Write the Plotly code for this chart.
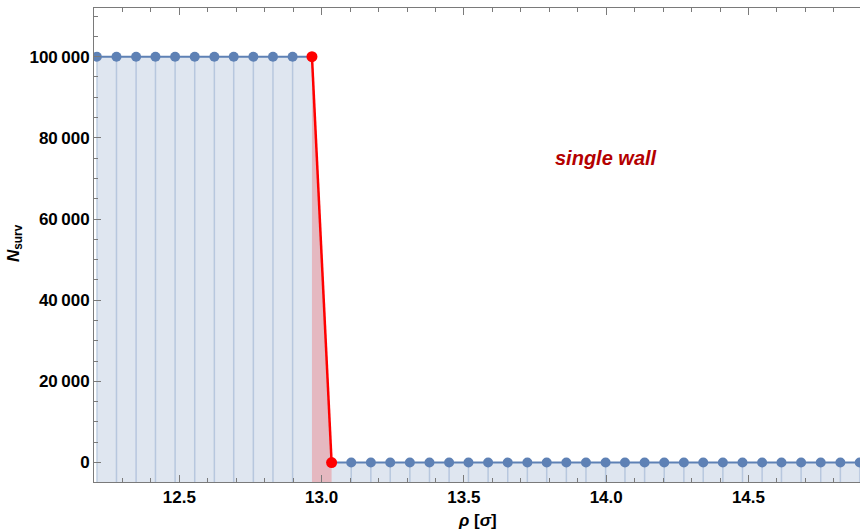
import plotly.graph_objects as go

# Surviving-particle count N_surv versus radial position rho (in units of sigma)
rho = [12.210, 12.279, 12.348, 12.416, 12.485, 12.554, 12.623, 12.691,
       12.760, 12.829, 12.898, 12.966, 13.035, 13.104, 13.173, 13.241,
       13.310, 13.379, 13.448, 13.516, 13.585, 13.654, 13.723, 13.791,
       13.860, 13.929, 13.998, 14.066, 14.135, 14.204, 14.273, 14.341,
       14.410, 14.479, 14.548, 14.616, 14.685, 14.754, 14.823, 14.891]
n_surv = [100000, 100000, 100000, 100000, 100000, 100000, 100000, 100000,
          100000, 100000, 100000, 100000, 0, 0, 0, 0,
          0, 0, 0, 0, 0, 0, 0, 0,
          0, 0, 0, 0, 0, 0, 0, 0,
          0, 0, 0, 0, 0, 0, 0, 0]

# the step across the wall (last point above, first point below)
wall_idx = [11, 12]

x_ticks = [12.5, 13.0, 13.5, 14.0, 14.5]
x_ticktext = ["12.5", "13.0", "13.5", "14.0", "14.5"]
y_ticks = [0, 20000, 40000, 60000, 80000, 100000]
y_ticktext = ["0", "20\u2009000", "40\u2009000", "60\u2009000", "80\u2009000", "100\u2009000"]

X_RANGE = [12.2, 14.892]
Y_RANGE = [-4800, 112000]

BLUE = "#5E81B5"
RED = "#FF0000"
FONT = "Liberation Sans"

fig = go.Figure()

# filled area under the whole curve, down to the bottom of the frame
fig.add_trace(go.Scatter(x=[rho[0], rho[-1]], y=[Y_RANGE[0], Y_RANGE[0]],
                         mode="lines", line=dict(width=0), hoverinfo="skip",
                         showlegend=False))
fig.add_trace(go.Scatter(x=rho, y=n_surv, mode="lines", line=dict(width=0),
                         fill="tonexty", fillcolor="rgba(94,129,181,0.2)",
                         hoverinfo="skip", showlegend=False))

# red filling under the wall segment
i0, i1 = wall_idx
fig.add_trace(go.Scatter(
    x=[rho[i0], rho[i1], rho[i1], rho[i0], rho[i0]],
    y=[n_surv[i0], n_surv[i1], Y_RANGE[0], Y_RANGE[0], n_surv[i0]],
    mode="lines", line=dict(width=0), fill="toself",
    fillcolor="rgba(255,0,0,0.2)", hoverinfo="skip", showlegend=False))

# vertical drop lines from every blue point
blue_idx = [i for i in range(len(rho)) if i not in wall_idx]
sx, sy = [], []
for i in blue_idx:
    sx += [rho[i], rho[i], None]
    sy += [n_surv[i], Y_RANGE[0], None]
fig.add_trace(go.Scatter(x=sx, y=sy, mode="lines",
                         line=dict(color="rgba(94,129,181,0.3)", width=1.5),
                         hoverinfo="skip", showlegend=False))

# blue joined lines on both plateaus
fig.add_trace(go.Scatter(x=rho[:i0 + 1], y=n_surv[:i0 + 1], mode="lines",
                         line=dict(color=BLUE, width=2), showlegend=False))
fig.add_trace(go.Scatter(x=rho[i1:], y=n_surv[i1:], mode="lines",
                         line=dict(color=BLUE, width=2), showlegend=False))

# blue points
fig.add_trace(go.Scatter(x=[rho[i] for i in blue_idx],
                         y=[n_surv[i] for i in blue_idx], mode="markers",
                         marker=dict(color=BLUE, size=10, line=dict(width=0)),
                         showlegend=False))

# red wall segment with its end points
fig.add_trace(go.Scatter(x=[rho[i0], rho[i1]], y=[n_surv[i0], n_surv[i1]],
                         mode="lines+markers",
                         line=dict(color=RED, width=2.5),
                         marker=dict(color=RED, size=11, line=dict(width=0)),
                         showlegend=False))

axis_common = dict(
    showgrid=False, zeroline=False, showline=True, linecolor="#7a7a7a",
    linewidth=1, ticks="inside", tickcolor="#7a7a7a", tickwidth=1, ticklen=7,
    tickfont=dict(family=FONT, size=17, color="black", weight="bold"),
)

fig.update_xaxes(range=X_RANGE, tickvals=x_ticks, ticktext=x_ticktext,
                 mirror="ticks",
                 minor=dict(dtick=0.1, tick0=12.0, ticks="inside", ticklen=4,
                            tickcolor="#7a7a7a", showgrid=False),
                 **axis_common)
fig.update_yaxes(range=Y_RANGE, tickvals=y_ticks, ticktext=y_ticktext,
                 mirror=False,
                 minor=dict(dtick=5000, tick0=0, ticks="inside", ticklen=4,
                            tickcolor="#7a7a7a", showgrid=False),
                 **axis_common)

fig.add_annotation(text="single wall", x=14.0, y=75000, xref="x", yref="y",
                   showarrow=False,
                   font=dict(family=FONT, size=20, color="#B40000",
                             weight="bold", style="italic"))

fig.add_annotation(text="<i>\u03c1</i> [<i>\u03c3</i>]", xref="paper", yref="paper",
                   x=0.501, y=0, yshift=-38, showarrow=False,
                   xanchor="center", yanchor="middle",
                   font=dict(family=FONT, size=17, color="black", weight="bold"))
fig.add_annotation(text="<i>N</i><sub>surv</sub>", xref="paper", yref="paper",
                   x=0, xshift=-79, y=0.504, textangle=-90, showarrow=False,
                   xanchor="center", yanchor="middle",
                   font=dict(family=FONT, size=17, color="black", weight="bold"))

fig.update_layout(
    width=860, height=532,
    margin=dict(l=94, r=0, t=8, b=50),
    plot_bgcolor="white", paper_bgcolor="white",
)

fig.write_html("out.html")
